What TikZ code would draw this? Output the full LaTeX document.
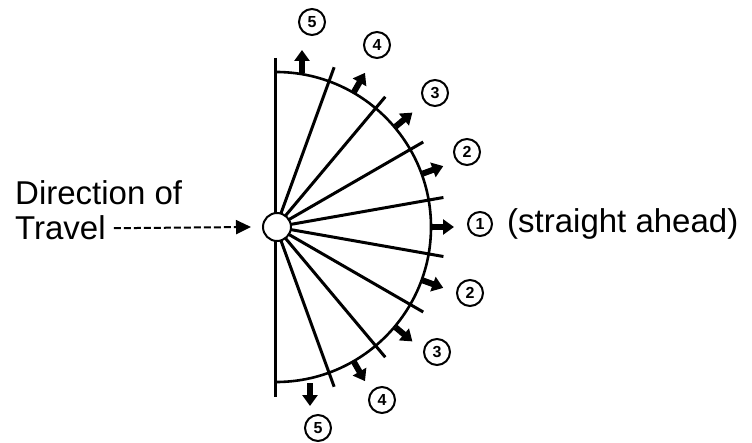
\documentclass[tikz,border=0pt]{standalone}
\usepackage{fontspec}
\setmainfont{Liberation Sans}
\usetikzlibrary{arrows.meta}
\begin{document}
\begin{tikzpicture}[x=1pt,y=1pt,
  bar/.style={line width=3pt},
  rim/.style={line width=2.6pt},
  blk/.style={line width=6pt,-{Triangle[length=11pt,width=15pt]}},
  num/.style={circle,draw,line width=2pt,minimum size=26pt,inner sep=0pt,font=\fontsize{16}{16}\selectfont\bfseries},
  lbl/.style={font=\fontsize{33}{33}\selectfont,inner sep=0pt,anchor=base west}
]
\useasboundingbox (0,0) rectangle (752,442);
\coordinate (C) at (276,215);
\coordinate (vt) at (275,384);
\coordinate (vb) at (275,45);
\draw[bar] (vt) -- (vb);
\draw[rim] (C) ++(90:155) arc[start angle=90,end angle=-90,radius=155];
\foreach \a in {10,30,50,70,-10,-30,-50,-70}
  \draw[bar] (C) -- ++(\a:170);
\node[circle,draw,fill=white,line width=2pt,minimum size=28pt,inner sep=0pt] (hub) at (277,215) {};
% block arrows
\foreach \a in {0,20,40,60,-20,-40,-60}
  \draw[blk] (C) ++(\a:156) -- ++(\a:22);
\coordinate (a5s) at (302,369);
\coordinate (a5e) at (302,392);
\draw[blk] (a5s) -- (a5e);
\coordinate (b5s) at (310,59);
\coordinate (b5e) at (310,36);
\draw[blk] (b5s) -- (b5e);
% numbers
\node[num] (u5) at (312,420) {5};
\node[num] (u4) at (377,397) {4};
\node[num] (u3) at (435,349) {3};
\node[num] (u2) at (467,290) {2};
\node[num] (l2) at (470,149) {2};
\node[num] (l3) at (437,90) {3};
\node[num] (l4) at (382,42) {4};
\node[num] (l5) at (318,14) {5};
\node[num,minimum size=24pt] (one) at (480,218) {1};
\node[lbl] (sa) at (507,209) {(straight ahead)};
% left labels
\node[lbl] (dir) at (15,237) {Direction of};
\node[lbl] (trav) at (15,202) {Travel};
\draw[line width=2pt,dash pattern=on 7pt off 3pt,-{Triangle[length=15pt,width=14pt]}]
  ([xshift=8pt]trav.east) -- ([xshift=-11pt]hub.west);
\end{tikzpicture}
\end{document}
